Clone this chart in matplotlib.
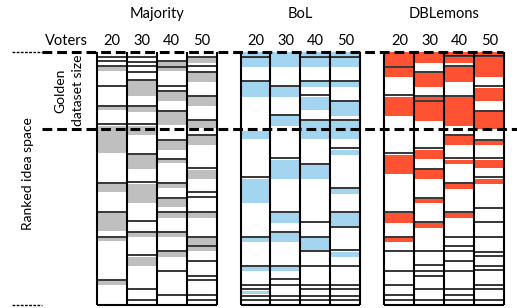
import matplotlib
matplotlib.use("Agg")
import matplotlib.pyplot as plt

plt.rcParams["font.family"] = ["Lato", "DejaVu Sans"]

methods = ["Majority", "BoL", "DBLemons"]
voters = [20, 30, 40, 50]
fill_colors = ["#BFBFBF", "#A3D5F1", "#FF5233"]
golden = 30.5  # golden dataset size, % of ranked idea space

# horizontal divider positions (% of ranked idea space, 0 = top) per voters column
maj_lines = [
    [2.0, 3.7, 5.4, 13.6, 21.2, 28.6, 51.7, 63.2, 73.1, 90.2],
    [2.0, 4.0, 5.7, 7.9, 11.2, 21.2, 28.6, 40.2, 51.6, 67.0, 71.1, 80.5, 93.8, 98.0],
    [3.7, 5.9, 13.6, 15.3, 23.2, 34.7, 42.2, 52.0, 57.7, 63.2, 71.2, 78.6, 86.5, 96.0],
    [2.1, 5.7, 7.9, 17.3, 26.8, 32.7, 45.9, 55.5, 57.5, 63.2, 73.1, 76.8, 82.6, 88.7, 90.2, 96.3, 98.0],
]
bol_lines = [
    [1.8, 11.3, 49.6, 73.1, 84.7, 92.2, 93.9, 96.4, 98.2],
    [13.3, 24.8, 42.1, 63.2, 71.1, 84.7, 89.9, 92.2, 96.4, 98.2],
    [1.8, 11.3, 17.2, 26.9, 44.3, 67.2, 73.1, 78.8, 84.7, 92.2, 93.9, 96.4, 98.2],
    [1.8, 11.3, 19.3, 26.9, 38.1, 53.7, 63.2, 69.3, 78.5, 84.7, 92.2, 93.9, 96.4, 98.2],
]
dbl_lines = [
    [5.8, 17.2, 40.1, 63.3, 73.1, 78.6, 86.5, 92.2, 96.2, 98.2],
    [7.8, 17.4, 19.3, 38.1, 46.2, 57.7, 67.2, 78.8, 84.3, 86.5, 88.7, 93.9, 98.2],
    [1.7, 5.7, 17.3, 32.8, 42.1, 51.8, 63.2, 73.1, 76.8, 78.8, 82.6, 86.5, 93.9, 96.2, 98.2],
    [1.7, 13.6, 23.4, 34.8, 42.1, 49.6, 61.6, 67.2, 73.1, 79.0, 80.7, 84.6, 86.3, 92.2, 93.9, 98.2],
]

# coloured bands (start, end) per voters column
maj_fill = [
    [(5.9, 7.4), (21.6, 23.0), (29.3, 40.1), (52.2, 55.3), (63.6, 70.7), (73.6, 74.8), (90.8, 92.2)],
    [(11.6, 17.5), (21.6, 23.6), (29.3, 32.9), (40.6, 46.2), (52.2, 59.6), (71.8, 73.1), (81.3, 84.7)],
    [(4.0, 5.7), (6.3, 7.7), (15.7, 19.3), (23.6, 28.9), (35.1, 38.7), (42.6, 44.1), (52.4, 53.9),
     (58.2, 61.5), (63.6, 65.7), (71.6, 73.1), (79.2, 81.0)],
    [(2.4, 4.4), (8.3, 11.9), (17.8, 21.2), (27.2, 30.2), (33.1, 36.7), (46.6, 50.1), (63.6, 65.6),
     (73.6, 76.4), (77.0, 78.6)],
]
bol_fill = [
    [(0, 1.6), (2.1, 5.8), (11.7, 17.7), (31.1, 34.6), (50.3, 59.6), (73.6, 75.1), (85.2, 86.5), (94.6, 95.8)],
    [(0, 5.8), (13.9, 17.7), (25.3, 29.3), (42.6, 50.1), (63.7, 67.5), (71.6, 75.1), (85.2, 86.5)],
    [(0, 1.6), (2.1, 5.8), (11.7, 13.7), (17.7, 23.1), (27.3, 34.6), (44.7, 50.1), (73.6, 78.4)],
    [(0, 1.6), (2.1, 5.8), (11.7, 13.7), (19.7, 25.3), (27.3, 34.6), (38.7, 40.8), (54.2, 56.2),
     (63.6, 69.0), (79.0, 81.3)],
]
dbl_fill = [
    [(0, 5.5), (6.3, 9.8), (17.7, 25.3), (40.8, 48.2), (63.7, 67.5), (73.6, 75.1)],
    [(0, 4.2), (8.2, 13.7), (17.8, 19.0), (19.7, 27.3), (38.8, 42.5), (46.7, 50.3), (58.3, 59.9), (67.7, 69.5)],
    [(0, 1.5), (2.1, 4.2), (6.1, 12.0), (17.8, 29.3), (33.2, 36.8), (42.6, 44.2), (52.2, 54.2), (63.6, 65.7)],
    [(0, 1.5), (2.1, 9.8), (14.1, 19.4), (23.7, 30.5), (35.2, 36.8), (42.7, 46.0), (50.3, 52.2)],
]

all_lines = [maj_lines, bol_lines, dbl_lines]
all_fill = [maj_fill, bol_fill, dbl_fill]
group_start = [0, 4.8, 9.6]

fig = plt.figure(figsize=(5.17, 3.08), dpi=100)
ax = fig.add_axes([0, 0, 1, 1])
ax.set_xlim(-3.717, 13.517)
ax.set_ylim(101.3, -20.58)
ax.axis("off")

for g, name in enumerate(methods):
    x0 = group_start[g]
    for i, v in enumerate(voters):
        x = x0 + i
        for a, b in all_fill[g][i]:
            ax.bar(x, b - a, bottom=a, width=1.0, color=fill_colors[g], linewidth=0, zorder=1)
        ax.hlines(all_lines[g][i], x - 0.5, x + 0.5, color="black", lw=1.1, zorder=2)
        ax.text(x, -2.8, str(v), ha="center", va="baseline", fontsize=10.5)
    xs = [x0 + i - 0.5 for i in range(len(voters) + 1)]
    ax.vlines(xs, 0, 100, color="black", lw=1.5, zorder=3)
    ax.hlines(100, x0 - 0.5, x0 + len(voters) - 0.5, color="black", lw=1.5, zorder=3)
    ax.text(x0 + 1.5, -13.6, name, ha="center", va="baseline", fontsize=10.5)

ax.text(-0.78, -2.8, "Voters", ha="right", va="baseline", fontsize=10.5)

# golden / idea-space markers
ax.plot([-2.317, 13.05], [0, 0], color="black", lw=2.2, ls=(0, (3.2, 1.6)), zorder=4)
ax.plot([-2.317, 13.517], [golden, golden], color="black", lw=2.2, ls=(0, (3.2, 1.6)), zorder=4)
ax.plot([-3.317, -2.317], [0, 0], color="black", lw=1.0, ls=(0, (2, 1)), zorder=4)
ax.plot([-3.317, -2.317], [100, 100], color="black", lw=1.0, ls=(0, (2, 1)), zorder=4)

ax.text(-1.417, golden / 2, "Golden\ndataset size", rotation=90, ha="center", va="center",
        fontsize=10, linespacing=1.55)
ax.text(-2.78, 48, "Ranked idea space", rotation=90, ha="center", va="center", fontsize=10)

fig.savefig("out.png", dpi=100)
